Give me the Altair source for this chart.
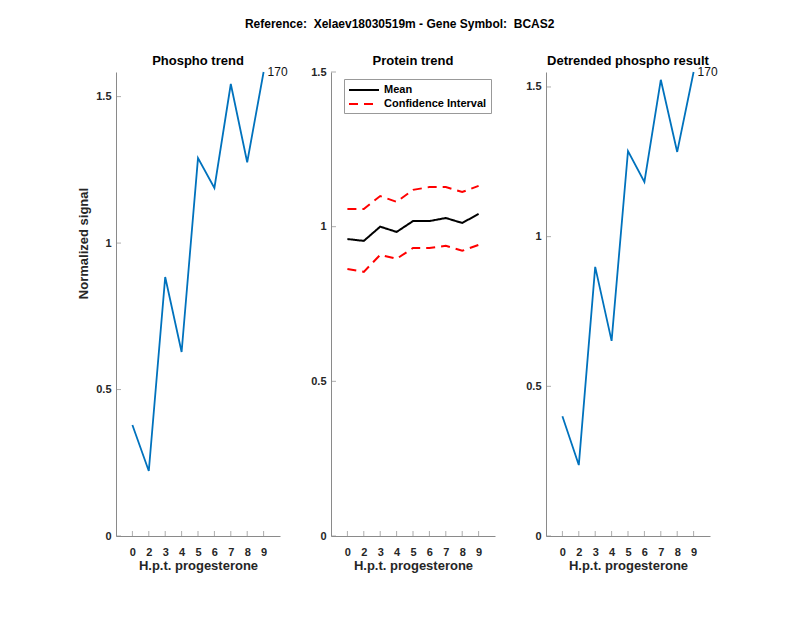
import altair as alt
import pandas as pd

# ---- data ----
hours = ["0", "2", "3", "4", "5", "6", "7", "8", "9"]
phospho = [0.379, 0.222, 0.884, 0.628, 1.290, 1.188, 1.543, 1.276, 1.584]
prot_mean = [0.960, 0.954, 1.000, 0.983, 1.018, 1.018, 1.028, 1.012, 1.041]
prot_upper = [1.057, 1.057, 1.099, 1.080, 1.119, 1.128, 1.128, 1.112, 1.132]
prot_lower = [0.863, 0.854, 0.909, 0.896, 0.931, 0.931, 0.938, 0.922, 0.941]
detrended = [0.400, 0.237, 0.899, 0.652, 1.286, 1.183, 1.524, 1.283, 1.550]
y_ticks = [0, 0.5, 1, 1.5]
end_label = "170"
series_names = ["Mean", "Confidence Interval"]
fig_title = "Reference: \u00a0Xelaev18030519m - Gene Symbol: \u00a0BCAS2"

W, H = 164, 464
FONT = "Liberation Sans"
TXT = "#262626"
AX = "#8a8a8a"
BLUE = "#0072BD"

idx = list(range(1, len(hours) + 1))
label_expr = "[" + ",".join("'%s'" % h for h in hours) + "][datum.value - 1]"


def x_enc(field):
    return alt.X(
        field,
        type="quantitative",
        scale=alt.Scale(domain=[0, len(hours) + 1], nice=False, zero=False),
        axis=alt.Axis(
            values=idx, labelExpr=label_expr, tickSize=0, grid=False,
            domainColor=AX, labelPadding=10, labelFontSize=11,
            labelFontWeight="bold", labelColor=TXT, labelFont=FONT,
            title="H.p.t. progesterone", titleFont=FONT, titleFontSize=13,
            titleFontWeight="bold", titleColor=TXT, titlePadding=2,
        ),
    )


def y_enc(field, ymax, title):
    kw = dict(
        values=y_ticks, format="~g", tickSize=0, grid=False, domainColor=AX,
        labelPadding=5, labelFontSize=11, labelFontWeight="bold",
        labelColor=TXT, labelFont=FONT,
    )
    if title:
        kw.update(title=title, titleFont=FONT, titleFontSize=13,
                  titleFontWeight="bold", titleColor=TXT, titlePadding=5,
                  titleY=171, titleAlign="center")
    else:
        kw.update(title=None)
    return alt.Y(
        field, type="quantitative",
        scale=alt.Scale(domain=[0, ymax], nice=False, zero=True),
        axis=alt.Axis(**kw),
    )


def tick_layers(ymax, title):
    yt = alt.Chart(pd.DataFrame({"v": [t for t in y_ticks if t <= ymax]})).mark_tick(
        orient="horizontal", size=5, thickness=1, color=AX
    ).encode(y=y_enc("v", ymax, title), x=alt.value(2.5))
    xt = alt.Chart(pd.DataFrame({"v": idx})).mark_tick(
        orient="vertical", size=5, thickness=1, color=AX
    ).encode(x=x_enc("v"), y=alt.value(H - 2.5))
    return [yt, xt]


def panel_title(text):
    return alt.TitleParams(text, font=FONT, fontSize=13, fontWeight="bold",
                           color="#000", offset=-2, frame="group")


def trend_panel(values, title, ytitle):
    ymax = max(values)
    df = pd.DataFrame({"i": idx, "v": values})
    line = alt.Chart(df).mark_line(color=BLUE, strokeWidth=1.8).encode(
        x=x_enc("i"), y=y_enc("v", ymax, ytitle)
    )
    last = pd.DataFrame({"i": [idx[-1]], "v": [values[-1]], "t": [end_label]})
    txt = alt.Chart(last).mark_text(
        align="left", baseline="middle", dx=4, font=FONT, fontSize=12, color="#111"
    ).encode(x=x_enc("i"), y=y_enc("v", ymax, ytitle), text="t:N")
    return alt.layer(line, txt, *tick_layers(ymax, ytitle)).properties(
        width=W, height=H, title=panel_title(title),
    )


rows = []
for part, name, vals in [("mean", series_names[0], prot_mean),
                         ("upper", series_names[1], prot_upper),
                         ("lower", series_names[1], prot_lower)]:
    for i, v in zip(idx, vals):
        rows.append({"i": i, "v": v, "name": name, "part": part})
pdf = pd.DataFrame(rows)


def legend():
    return alt.Legend(title=None, orient="none", legendX=13, legendY=7,
                      symbolType="M-2.5,0H2.5", symbolSize=144, symbolOffset=9,
                      symbolStrokeWidth=2, labelFont=FONT,
                      labelFontSize=11, labelFontWeight="bold",
                      labelColor="#000", fillColor="white",
                      strokeColor="#999", padding=4, rowPadding=2,
                      labelOffset=13)


prot_line = alt.Chart(pdf).mark_line(strokeWidth=2).encode(
    x=x_enc("i"),
    y=y_enc("v", 1.5, None),
    color=alt.Color("name:N", sort=series_names,
                    scale=alt.Scale(domain=series_names, range=["#000000", "#ff0000"]),
                    legend=legend()),
    strokeDash=alt.StrokeDash("name:N", sort=series_names,
                              scale=alt.Scale(domain=series_names, range=[[1, 0], [9, 6]]),
                              legend=legend()),
    detail="part:N",
)
p2 = alt.layer(prot_line, *tick_layers(1.5, None)).properties(
    width=W, height=H, title=panel_title("Protein trend"),
)

p1 = trend_panel(phospho, "Phospho trend", "Normalized signal")
p3 = trend_panel(detrended, "Detrended phospho result", None)

chart = alt.hconcat(p1, p2, p3, spacing=51, bounds="flush").resolve_scale(
    x="independent", y="independent", color="independent", strokeDash="independent"
).resolve_legend(color="independent", strokeDash="independent").properties(
    title=alt.TitleParams(fig_title, font=FONT, fontSize=12, fontWeight="bold",
                          color="#000", anchor="middle", offset=24, dx=2),
    padding={"left": 69, "top": 10, "right": 10, "bottom": 10},
).configure_view(stroke=None)

chart.save("out.html", embed_options={"renderer": "svg", "actions": False})
